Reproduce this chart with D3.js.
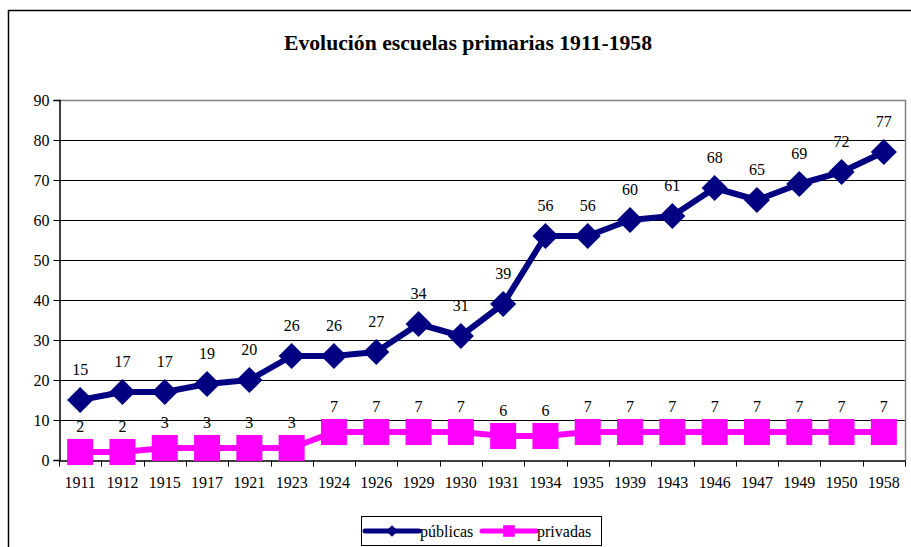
<!DOCTYPE html>
<html>
<head>
<meta charset="utf-8">
<script src="https://cdn.jsdelivr.net/npm/d3@7"></script>
<style>
  body { margin: 0; background: #fff; }
  svg text { font-family: 'Liberation Serif', 'DejaVu Serif', serif !important; fill: #000; }
</style>
</head>
<body>
<div id="chart"></div>
<script>
var years = ["1911","1912","1915","1917","1921","1923","1924","1926","1929","1930",
             "1931","1934","1935","1939","1943","1946","1947","1949","1950","1958"];
var publicas = [15,17,17,19,20,26,26,27,34,31,39,56,56,60,61,68,65,69,72,77];
var privadas = [2,2,3,3,3,3,7,7,7,7,6,6,7,7,7,7,7,7,7,7];
var yTicks = [0,10,20,30,40,50,60,70,80,90];

var svg = d3.select("#chart")
  .append("svg")
  .attr("width", 911)
  .attr("height", 547)
  .attr("font-family", "'Liberation Serif', serif");

var plot = {left: 59, right: 905, top: 100, bottom: 460};

// outer chart frame (runs off the page right and bottom)
svg.append("rect")
  .attr("x", 8.5).attr("y", 10.5)
  .attr("width", 1000).attr("height", 1000)
  .style("fill", "none")
  .style("stroke", "#000")
  .style("stroke-width", 1.5);

svg.append("text")
  .attr("x", 468).attr("y", 50)
  .attr("text-anchor", "middle")
  .style("font-size", "21.7px")
  .style("font-weight", "bold")
  .text("Evolución escuelas primarias 1911-1958");

var x = d3.scaleBand().domain(years).range([plot.left, plot.right]);
var y = d3.scaleLinear().domain([0, 90]).range([plot.bottom, plot.top]);

// gridlines
svg.append("g")
  .selectAll("line")
  .data(yTicks.filter(function(d) { return d > 0 && d < 90; }))
  .enter().append("line")
  .attr("x1", plot.left).attr("x2", plot.right)
  .attr("y1", function(d) { return Math.round(y(d)) + 0.5; })
  .attr("y2", function(d) { return Math.round(y(d)) + 0.5; })
  .style("stroke", "#000")
  .style("stroke-width", 1);

// plot area border (gray top/right)
svg.append("path")
  .attr("d", "M" + plot.left + "," + (plot.top + 0.5) + "H" + (plot.right + 0.5) + "V" + plot.bottom)
  .style("fill", "none")
  .style("stroke", "#808080")
  .style("stroke-width", 1.5);

// y axis
var yAxis = svg.append("g")
  .attr("transform", "translate(" + (plot.left + 0.5) + ",0)")
  .call(d3.axisLeft(y).tickValues(yTicks).tickSize(6).tickPadding(4));
yAxis.attr("font-family", null);
yAxis.select(".domain").style("stroke", "#000").style("stroke-width", 1.5);
yAxis.selectAll("line").style("stroke", "#000");
yAxis.selectAll("text").style("font-size", "16px");

// x axis with ticks between categories
var xAxis = svg.append("g")
  .attr("transform", "translate(0," + (plot.bottom + 0.5) + ")")
  .call(d3.axisBottom(x).tickSize(0).tickPadding(16));
xAxis.attr("font-family", null);
xAxis.select(".domain").style("stroke", "#000").style("stroke-width", 1.5);
xAxis.selectAll("text").style("font-size", "16px");
xAxis.selectAll("line.sep")
  .data(d3.range(years.length + 1))
  .enter().append("line")
  .attr("class", "sep")
  .attr("x1", function(i) { return Math.round(plot.left + i * x.step()) + 0.5; })
  .attr("x2", function(i) { return Math.round(plot.left + i * x.step()) + 0.5; })
  .attr("y1", 0).attr("y2", 6)
  .style("stroke", "#000");

var cx = function(d, i) { return x(years[i]) + x.bandwidth() / 2; };

var line = d3.line()
  .x(function(d, i) { return cx(d, i); })
  .y(function(d) { return y(d); });

var series = [
  {name: "públicas", values: publicas, color: "#000080", symbol: d3.symbolSquare, size: 340, rotate: 45, labelDy: -25},
  {name: "privadas", values: privadas, color: "#FF00FF", symbol: d3.symbolSquare, size: 676, rotate: 0, labelDy: -20}
];

series.forEach(function(s) {
  var g = svg.append("g");
  g.append("path")
    .datum(s.values)
    .attr("d", line)
    .style("fill", "none")
    .style("stroke", s.color)
    .style("stroke-width", 6)
    .style("stroke-linejoin", "round");

  g.selectAll("path.mark")
    .data(s.values)
    .enter().append("path")
    .attr("class", "mark")
    .attr("transform", function(d, i) {
      return "translate(" + cx(d, i) + "," + y(d) + ") rotate(" + s.rotate + ")";
    })
    .attr("d", d3.symbol().type(s.symbol).size(s.size))
    .style("fill", s.color);

  g.selectAll("text.lbl")
    .data(s.values)
    .enter().append("text")
    .attr("class", "lbl")
    .attr("x", function(d, i) { return cx(d, i); })
    .attr("y", function(d) { return y(d) + s.labelDy; })
    .attr("text-anchor", "middle")
    .style("font-size", "16px")
    .text(function(d) { return d; });
});

// legend
var legend = svg.append("g");
legend.append("rect")
  .attr("x", 361.5).attr("y", 516.5)
  .attr("width", 240).attr("height", 29)
  .style("fill", "#fff")
  .style("stroke", "#000")
  .style("stroke-width", 1);

var legendX = [365, 482];
series.forEach(function(s, i) {
  var lx = legendX[i];
  legend.append("line")
    .attr("x1", lx).attr("x2", lx + 54)
    .attr("y1", 531).attr("y2", 531)
    .style("stroke", s.color)
    .style("stroke-width", 5)
    .style("stroke-linecap", "round");
  legend.append("path")
    .attr("transform", "translate(" + (lx + 27) + ",531) rotate(" + s.rotate + ")")
    .attr("d", d3.symbol().type(s.symbol).size(s.size * 0.2))
    .style("fill", s.color);
  legend.append("text")
    .attr("x", lx + 55).attr("y", 537)
    .style("font-size", "16px")
    .text(s.name);
});
</script>
</body>
</html>
